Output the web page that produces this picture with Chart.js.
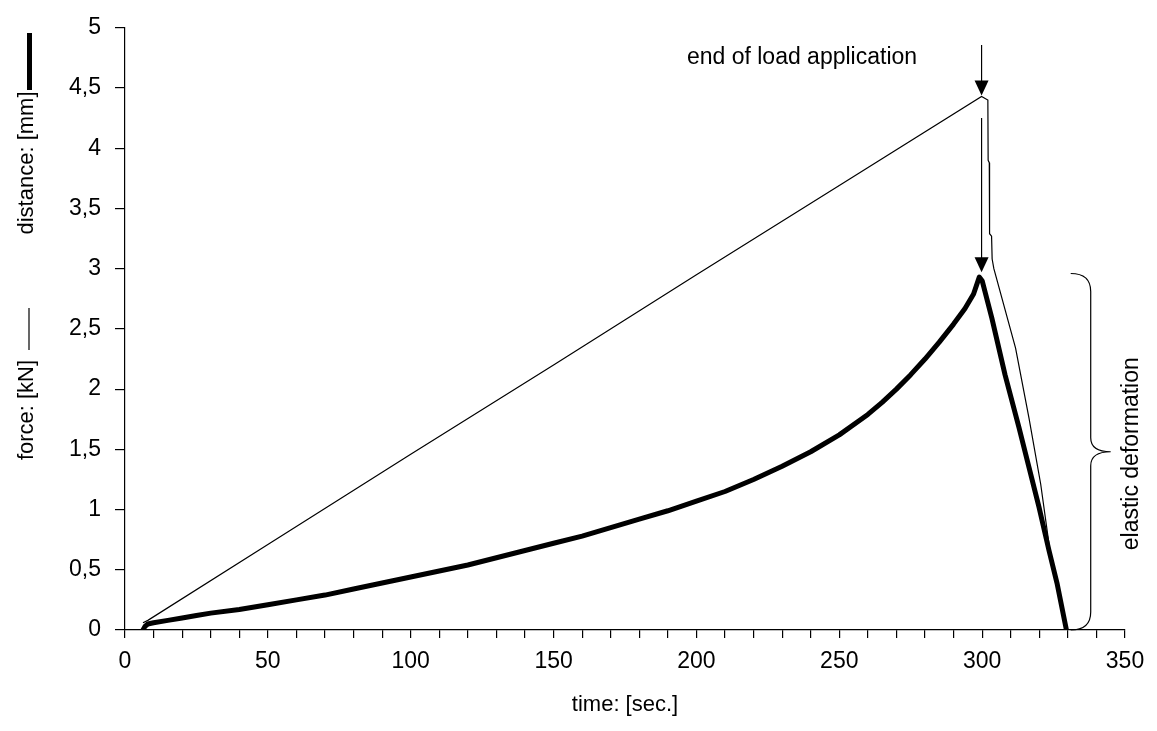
<!DOCTYPE html>
<html>
<head>
<meta charset="utf-8">
<script src="https://cdn.jsdelivr.net/npm/chart.js@4/dist/chart.umd.min.js"></script>
<style>
    html, body { margin: 0; padding: 0; background: #fff; }
    #wrap { width: 1157px; height: 731px; }
</style>
</head>
<body>
<div id="wrap"><canvas id="chart" width="1157" height="731"></canvas></div>
<script>
// force (thin line), kN
const forceTime = [6.3, 8, 50, 100, 150, 200, 250, 299.8, 302, 302.1, 302.5, 302.6, 303.3, 303.5, 304.1, 311.7, 316.4, 320.5, 323.6, 326.5, 329.5];
const forceKN   = [0.06, 0.08, 0.71, 1.46, 2.20, 2.95, 3.69, 4.43, 4.40, 3.90, 3.88, 3.29, 3.27, 3.08, 3.00, 2.34, 1.76, 1.21, 0.68, 0.34, 0.00];

// distance (thick line), mm
const distTime = [6.3, 7, 8, 10, 15, 20, 25, 30, 40, 50, 60, 70, 80, 90, 100, 110, 120, 130, 140, 150, 160, 170, 180, 190, 200,
                  210, 220, 230, 240, 250, 260, 265, 270, 275, 280, 285, 290, 294, 297, 299, 300,
                  303.4, 308, 312.9, 316.4, 319.9, 323.4, 326.2, 329.5];
const distMM   = [0.00, 0.03, 0.05, 0.06, 0.08, 0.10, 0.12, 0.14, 0.17, 0.21, 0.25, 0.29, 0.34, 0.39, 0.44, 0.49, 0.54, 0.60, 0.66, 0.72, 0.78, 0.85, 0.92, 0.99, 1.07,
                  1.15, 1.25, 1.36, 1.48, 1.62, 1.79, 1.89, 2.00, 2.12, 2.25, 2.39, 2.54, 2.67, 2.79, 2.93, 2.90,
                  2.59, 2.12, 1.68, 1.35, 1.02, 0.66, 0.39, 0.00];

const xLabels = [0, 50, 100, 150, 200, 250, 300, 350];

const FONT = '"Liberation Sans", Arial, sans-serif';

function toPoints(xs, ys) {
    return xs.map((x, i) => ({ x: x, y: ys[i] }));
}

// arrows, brace and the rotated y titles
const annotations = {
    id: 'annotations',
    afterDatasetsDraw(chart) {
        const ctx = chart.ctx;
        const xs = chart.scales.x;
        const ys = chart.scales.y;
        ctx.save();
        ctx.strokeStyle = '#000';
        ctx.fillStyle = '#000';

        // arrows to the peaks
        const ax = xs.getPixelForValue(299.8);
        function arrow(y1, tip) {
            ctx.lineWidth = 1.2;
            ctx.beginPath();
            ctx.moveTo(ax, y1);
            ctx.lineTo(ax, tip - 12);
            ctx.stroke();
            ctx.beginPath();
            ctx.moveTo(ax - 7, tip - 15);
            ctx.lineTo(ax + 7, tip - 15);
            ctx.lineTo(ax, tip);
            ctx.closePath();
            ctx.fill();
        }
        arrow(45, ys.getPixelForValue(4.43) - 1);
        arrow(118, ys.getPixelForValue(2.97));

        ctx.font = '23px ' + FONT;
        ctx.textAlign = 'center';
        ctx.textBaseline = 'middle';
        ctx.fillText('end of load application', 802, 58);

        // brace
        const bx = xs.getPixelForValue(331);
        const top = ys.getPixelForValue(2.96);
        const bot = ys.getPixelForValue(0);
        const mid = (top + bot) / 2;
        ctx.lineWidth = 1.2;
        ctx.beginPath();
        ctx.moveTo(bx, top);
        ctx.quadraticCurveTo(bx + 20, top, bx + 20, top + 18);
        ctx.lineTo(bx + 20, mid - 14);
        ctx.quadraticCurveTo(bx + 20, mid, bx + 40, mid);
        ctx.quadraticCurveTo(bx + 20, mid, bx + 20, mid + 14);
        ctx.lineTo(bx + 20, bot - 18);
        ctx.quadraticCurveTo(bx + 20, bot, bx, bot);
        ctx.stroke();

        ctx.save();
        ctx.translate(1132, mid + 2);
        ctx.rotate(-Math.PI / 2);
        ctx.fillText('elastic deformation', 0, 0);
        ctx.restore();

        // left title with line keys
        ctx.font = '22px ' + FONT;
        ctx.save();
        ctx.translate(27, 0);
        ctx.rotate(-Math.PI / 2);
        ctx.fillText('force: [kN]', -410, 0);
        ctx.fillText('distance: [mm]', -163, 0);
        ctx.restore();
        ctx.lineWidth = 1.2;
        ctx.beginPath();
        ctx.moveTo(29, 308);
        ctx.lineTo(29, 350);
        ctx.stroke();
        ctx.fillRect(27, 33, 5, 57);

        ctx.restore();
    }
};

const ctx = document.getElementById('chart').getContext('2d');
new Chart(ctx, {
    type: 'scatter',
    data: {
        datasets: [
            {
                label: 'force',
                data: toPoints(forceTime, forceKN),
                showLine: true,
                borderColor: '#000',
                borderWidth: 1.2,
                pointRadius: 0,
                tension: 0
            },
            {
                label: 'distance',
                data: toPoints(distTime, distMM),
                showLine: true,
                borderColor: '#000',
                borderWidth: 5,
                borderJoinStyle: 'round',
                borderCapStyle: 'round',
                pointRadius: 0,
                tension: 0
            }
        ]
    },
    options: {
        responsive: false,
        animation: false,
        events: [],
        layout: { padding: { left: 0, right: 32, top: 25, bottom: 0 } },
        plugins: {
            legend: { display: false },
            tooltip: { enabled: false }
        },
        scales: {
            x: {
                type: 'linear',
                min: 0,
                max: 350,
                afterFit: s => { s.height = 101; },
                afterBuildTicks: s => {
                    const t = [];
                    for (let v = 0; v <= 350; v += 10) t.push({ value: v });
                    s.ticks = t;
                },
                border: { color: '#000', width: 1.2 },
                grid: { display: true, drawOnChartArea: false, color: '#000', tickLength: 8, lineWidth: 1.2 },
                ticks: {
                    autoSkip: false,
                    maxRotation: 0,
                    color: '#000',
                    padding: 10,
                    font: { family: FONT, size: 23 },
                    callback: v => xLabels.includes(v) ? String(v) : ''
                },
                title: {
                    display: true,
                    text: 'time: [sec.]',
                    color: '#000',
                    font: { family: FONT, size: 22 },
                    padding: { top: 4, bottom: 13 }
                }
            },
            y: {
                type: 'linear',
                min: 0,
                max: 5,
                afterFit: s => { s.width = 125; },
                border: { color: '#000', width: 1.2 },
                grid: { display: true, drawOnChartArea: false, color: '#000', tickLength: 10, lineWidth: 1.2 },
                ticks: {
                    stepSize: 0.5,
                    color: '#000',
                    padding: 14,
                    font: { family: FONT, size: 23 },
                    callback: v => String(v).replace('.', ',')
                }
            }
        }
    },
    plugins: [annotations]
});
</script>
</body>
</html>
